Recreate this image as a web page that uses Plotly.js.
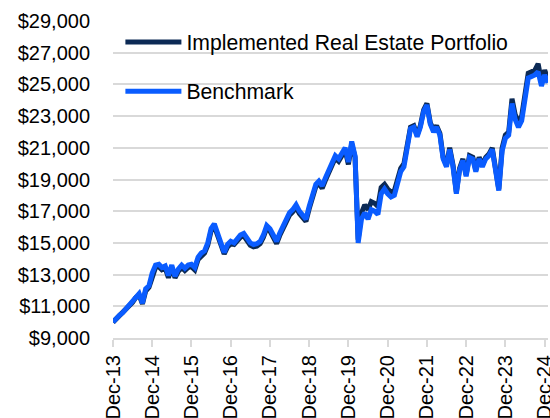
<!DOCTYPE html>
<html>
<head>
<meta charset="utf-8">
<script src="https://cdn.plot.ly/plotly-3.0.1.min.js"></script>
<style>html,body{margin:0;padding:0;background:#fff}#chart{width:550px;height:418px}</style>
</head>
<body>
<div id="chart"></div>
<script>
var startMonth = "2013-12";
var seriesNames = ["Implemented Real Estate Portfolio", "Benchmark"];
var tickLabels = ["Dec-13","Dec-14","Dec-15","Dec-16","Dec-17","Dec-18","Dec-19","Dec-20","Dec-21","Dec-22","Dec-23","Dec-24"];
var yTicks = [9000,11000,13000,15000,17000,19000,21000,23000,25000,27000,29000];
var yTickLabels = ["$9,000","$11,000","$13,000","$15,000","$17,000","$19,000","$21,000","$23,000","$25,000","$27,000","$29,000"];

var benchmark = [
10000,10250,10450,10600,10850,11100,11300,11600,11800,11200,12100,12300,
13100,13600,13650,13450,13550,12950,13600,12900,13350,13600,13400,13600,
13650,13450,14100,14350,14500,15000,15900,16200,15600,15000,14400,14900,
15100,15000,15300,15500,15600,15300,15000,14900,14950,15100,15500,16100,
15900,15500,15100,15600,16100,16500,16900,17100,17400,17000,16700,16500,
17300,17900,18700,18900,18600,19100,19600,20200,20500,20300,20700,21000,
20100,21400,20500,15000,16500,16900,16500,17100,17000,16800,18100,18400,
18100,17900,18000,18800,19500,19800,20900,22200,22300,21700,22300,23300,
23700,22500,22000,22300,21800,20300,19800,20900,19800,18100,19600,20200,
19200,20400,20300,19500,20300,19800,20300,20500,20900,19600,18300,20800,
21600,21800,23800,22800,22300,22700,24300,25400,25500,25600,25800,24900,
25600,25100];

var implemented = [
10000,10200,10400,10550,10800,11050,11250,11550,11700,11150,11950,12200,
12900,13450,13500,13300,13400,12800,13450,12800,13200,13450,13250,13450,
13500,13300,13950,14200,14350,14850,15750,16050,15450,14850,14300,14750,
14950,14900,15200,15350,15450,15150,14850,14750,14800,14950,15350,15950,
15750,15350,14950,15450,15950,16350,16750,16950,17250,16850,16550,16350,
17150,17750,18550,18750,18450,18950,19450,20050,20350,20150,20550,20850,
19950,21250,20400,15200,16900,17400,17100,17600,17500,17300,18500,18700,
18400,18200,18300,19000,19700,20000,21000,22300,22400,21800,22400,23400,
23800,22600,22100,22400,21900,20400,19900,21000,19900,18200,19700,20300,
19300,20500,20400,19600,20400,19900,20400,20600,21000,19700,18400,21000,
21800,22000,24100,23100,22600,23000,24600,25700,25800,25900,26300,25200,
25900,25300];

function monthList(start, n) {
  var p = start.split("-"), y = +p[0], m = +p[1], out = [];
  for (var i = 0; i < n; i++) {
    out.push(y + "-" + (m < 10 ? "0" + m : m) + "-01");
    m++; if (m > 12) { m = 1; y++; }
  }
  return out;
}
var dates = monthList(startMonth, benchmark.length);
var tickDates = monthList(startMonth, 12 * (tickLabels.length - 1) + 1).filter(function(d, i){ return i % 12 === 0; });

var fontFam = "Liberation Sans, Arial, sans-serif";
var traces = [
  {x: dates, y: implemented, name: seriesNames[0], type: "scatter", mode: "lines",
   line: {color: "#0c2a55", width: 5}, legend: "legend"},
  {x: dates, y: benchmark, name: seriesNames[1], type: "scatter", mode: "lines",
   line: {color: "#0a5cff", width: 5}, legend: "legend2"}
];

var layout = {
  width: 550, height: 418,
  margin: {l: 113, r: 2, t: 21, b: 80},
  paper_bgcolor: "#fff", plot_bgcolor: "#fff",
  font: {family: fontFam, color: "#000", size: 20},
  showlegend: true,
  legend: {x: 0.017, y: 0.933, xanchor: "left", yanchor: "middle", bgcolor: "rgba(0,0,0,0)",
           font: {size: 21.2, family: fontFam, color: "#000"}, itemwidth: 56},
  legend2: {x: 0.017, y: 0.778, xanchor: "left", yanchor: "middle", bgcolor: "rgba(0,0,0,0)",
           font: {size: 21.2, family: fontFam, color: "#000"}, itemwidth: 56},
  xaxis: {
    type: "date",
    range: [dates[0], dates[dates.length - 1]],
    tickmode: "array", tickvals: tickDates, ticktext: tickLabels,
    tickangle: -90,
    ticklabeloverflow: "allow",
    showgrid: false, zeroline: false,
    showline: true, linecolor: "#d9d9d9", linewidth: 2,
    ticks: "outside", ticklen: 7, tickwidth: 2, tickcolor: "#d9d9d9",
    tickfont: {size: 20, family: fontFam, color: "#000"},
    automargin: false, fixedrange: true
  },
  yaxis: {
    range: [9000, 29000],
    tickmode: "array", tickvals: yTicks, ticktext: yTickLabels,
    showgrid: true, gridcolor: "#d9d9d9", gridwidth: 2,
    zeroline: false, showline: false, ticks: "",
    ticklabelstandoff: 22,
    tickfont: {size: 20, family: fontFam, color: "#000"},
    automargin: false, fixedrange: true
  }
};

Plotly.newPlot("chart", traces, layout, {displayModeBar: false, staticPlot: true});
</script>
</body>
</html>
